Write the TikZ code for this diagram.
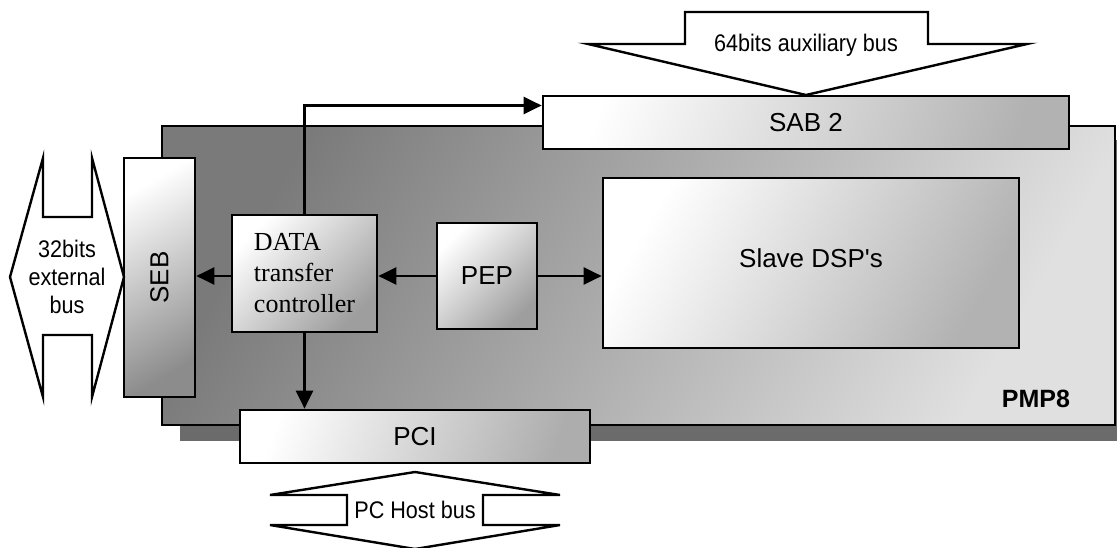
\documentclass[tikz,border=0pt]{standalone}
\usepackage{fontspec}
\setmainfont{Liberation Sans}
\newfontfamily\narrowfont[FakeStretch=0.9]{Liberation Sans}
\newfontfamily\dataserif{Liberation Serif}
\usetikzlibrary{arrows.meta,positioning}

\tikzset{every picture/.style={line width=2.4pt}}
\tikzset{
  unit/.style={draw, line width=2.7pt, top color=white, bottom color=black!38, shading angle=45,
    inner sep=0pt, font=\fontsize{26}{28}\selectfont},
  board/.style={draw, line width=2.7pt, top color=black!52, middle color=black!24, bottom color=black!12,
    shading angle=60, inner sep=0pt},
  link/.style={line width=2.4pt, -{Triangle[length=18pt,width=17pt]}},
  bus/.style={draw, line width=2.4pt, fill=white, line join=miter},
  buslabel/.style={inner sep=0pt, align=center, font=\narrowfont\fontsize{24}{28}\selectfont},
}

\begin{document}
\begin{tikzpicture}[x=1pt,y=1pt,yscale=-1,xscale=1]
\useasboundingbox (0,0) rectangle (1117,548);

%Shadow of the board
\fill[black!58] (180,140) rectangle (1117,441);
%Board PMP8
\node[board, minimum width=953pt, minimum height=299pt] (pmp) at (638.5,275.5) {};
\node[font=\bfseries\fontsize{25}{28}\selectfont, anchor=base, inner sep=0pt] (pmplabel) at (1036,407) {PMP8};

%Units
\node[unit, minimum width=526pt, minimum height=53pt, bottom color=black!30, shading angle=70] (sab) at (806,122.5) {SAB 2};
\node[unit, minimum width=71pt, minimum height=239pt, bottom color=black!45, shading angle=30] (seb) at (159.5,277.5) {\rotatebox{90}{SEB}};
\node[unit, minimum width=145pt, minimum height=117pt, align=left,
  font=\dataserif\fontsize{26}{31}\selectfont] (dtc) at (304.5,273.5) {DATA\\transfer\\controller};
\node[unit, minimum width=100pt, minimum height=106pt] (pep) at (487,276) {PEP};
\node[unit, minimum width=416pt, minimum height=170pt, bottom color=black!30, shading angle=60] (slave) at (811,263) {\raisebox{10pt}{Slave DSP\textquotesingle s}};
\node[unit, minimum width=350pt, minimum height=53pt, bottom color=black!32, shading angle=70] (pci) at (415,436.5) {PCI};

%Buses
\draw[bus] (10,277) -- (43,158) -- (43,217) -- (92,217) -- (92,158) -- (124,277)
  -- (92,397) -- (92,335) -- (43,335) -- (43,397) -- cycle;
\node[buslabel] (extbus) at (67,277) {32bits\\external\\bus};
\draw[bus] (685,12) -- (928,12) -- (928,44) -- (1027,44) -- (806,95) -- (588,44) -- (685,44) -- cycle;
\node[buslabel, anchor=base] (auxbus) at (806,52) {64bits auxiliary bus};
\draw[bus] (415,472) -- (560,495) -- (483,495) -- (483,525) -- (560,525) -- (415,549)
  -- (270,525) -- (347,525) -- (347,495) -- (270,495) -- cycle;
\node[buslabel, anchor=base] (hostbus) at (415,518) {PC Host bus};

%Connections
\draw[link] (dtc.west |- pep.west) -- (seb.east |- pep.west);
\draw[link] (pep.west) -- (dtc.east |- pep.west);
\draw[link] (pep.east) -- (slave.west |- pep.east);
\draw[link] (dtc.south) -- (dtc.south |- pci.north);
\draw[link] (dtc.north) |- ([yshift=-17pt]sab.west);

\end{tikzpicture}
\end{document}
